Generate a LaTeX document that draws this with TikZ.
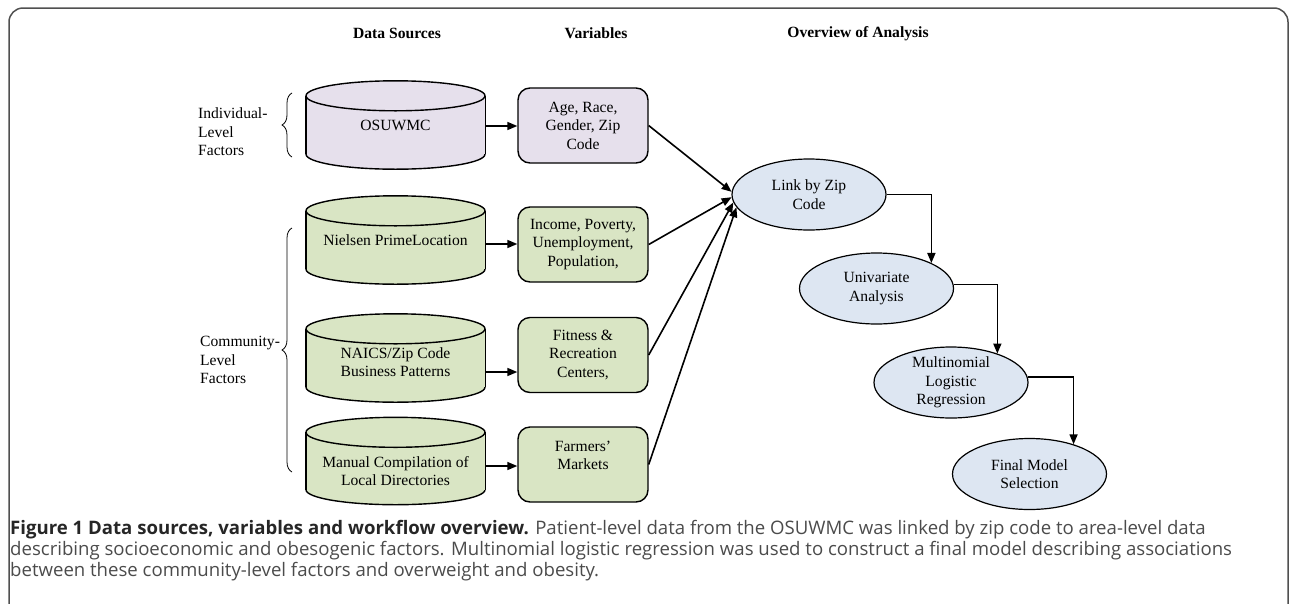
\documentclass[tikz,border=0pt]{standalone}
\usepackage{fontspec}
\setmainfont{Liberation Serif}
\newfontfamily\capfont{Open Sans}
\usetikzlibrary{arrows.meta,shapes.geometric,backgrounds,calc,decorations.pathreplacing}
\definecolor{lilac}{RGB}{230,224,236}
\definecolor{sage}{RGB}{217,229,196}
\definecolor{paleblue}{RGB}{221,230,242}
\definecolor{framegray}{RGB}{80,80,80}
\definecolor{capgray}{RGB}{75,75,75}

\begin{document}
\begin{tikzpicture}[
  x=1pt, y=-1pt,
  every node/.style={font=\fontsize{15.6}{18.5}\selectfont},
  src/.style={minimum width=179pt, minimum height=88pt, inner sep=0pt, align=center},
  var/.style={draw, rounded corners=12pt, line width=1.4pt, minimum width=130pt,
              minimum height=75pt, inner sep=0pt, align=center},
  stage/.style={ellipse, draw, line width=1.2pt, fill=paleblue, minimum width=154pt,
                minimum height=71pt, inner sep=0pt, align=center},
  head/.style={font=\fontsize{15.6}{18.5}\selectfont\bfseries},
  side/.style={align=left, anchor=west, inner sep=0pt},
  arr/.style={-{Triangle[length=10pt,width=8pt]}, line width=1.6pt},
  brc/.style={decorate, decoration={brace, amplitude=10pt}, line width=0.8pt},
  captxt/.style={font=\capfont\fontsize{18.6}{21}\selectfont, text=capgray,
                 align=left, anchor=west, inner sep=0pt},
]
\useasboundingbox (0,0) rectangle (1290,603);

% outer frame
\draw[framegray, line width=1.5pt, rounded corners=14pt] (9,8) rectangle (1288,660);

% column heads
\node[head] (hsrc) at (397,33) {Data Sources};
\node[head] (hvar) at (596,33) {Variables};
\node[head] (hana) at (858,34) {Overview of Analysis};

% data sources (text sits a little low in the lower two)
\node[src] (osu) at (395.5,125) {OSUWMC};
\node[src] (nie) at (395.5,240) {Nielsen PrimeLocation};
\node[src] (nai) at (395.5,362) {NAICS/Zip Code\\Business Patterns};
\node[src, minimum height=87pt] (man) at (395.5,471) {Manual Compilation of\\Local Directories};

\begin{scope}[on background layer]
\foreach \n/\col/\d in {osu/lilac/0, nie/sage/0, nai/sage/4, man/sage/10}{
  \filldraw[fill=\col, line width=1.4pt] ($(\n.south)+(0,-15-\d)$) ellipse[x radius=89.5, y radius=15];
  \fill[\col] ($(\n.north west)+(0,15-\d)$) rectangle ($(\n.south east)+(0,-15-\d)$);
  \draw[line width=1.4pt] ($(\n.north west)+(0,15-\d)$) -- ($(\n.south west)+(0,-15-\d)$)
                          ($(\n.north east)+(0,15-\d)$) -- ($(\n.south east)+(0,-15-\d)$);
  \filldraw[fill=\col, line width=1.4pt] ($(\n.north)+(0,15-\d)$) ellipse[x radius=89.5, y radius=15];
}
\end{scope}

% variables
\node[var, fill=lilac] (age) at (583,125.5) {Age, Race,\\Gender, Zip\\Code};
\node[var, fill=sage] (inc) at (583,244.5) {Income, Poverty,\\Unemployment,\\Population,};
\node[var, fill=sage] (fit) at (583,355) {Fitness \&\\Recreation\\Centers,};
\node[var, fill=sage] (farm) at (583,464.5) {Farmers'\\Markets\\~};

% analysis steps
\node[stage] (link) at (809,194.5) {Link by Zip\\Code};
\node[stage] (uni) at (876.5,288.5) {Univariate\\Analysis};
\node[stage, inner sep=-3pt] (multi) at (951,382.5) {Multinomial\\Logistic\\Regression};
\node[stage] (final) at (1029.5,474) {Final Model\\Selection};

% level labels
\node[side] (ind) at (198,132) {Individual-\\Level\\Factors};
\node[side] (com) at (200,360) {Community-\\Level\\Factors};
\draw[brc] (292,157) -- (292,93);
\draw[brc] (292,472) -- (292,228);

% arrows
\foreach \a/\b/\s in {osu/age/-1, nie/inc/-4, nai/fit/-10, man/farm/5}
  \draw[arr] ([yshift=\s]\a.east) -- ([yshift=\s]\a.east -| \b.west);
\foreach \b/\ang in {age/178, inc/182, fit/186, farm/190}
  \draw[arr] (\b.east) -- (link.\ang);
\draw[arr] (link.east) -| (uni.north east);
\draw[arr] (uni.3) -| (multi.32);
\draw[arr] (multi.4) -| (final.34);

% caption
\node[captxt] (cap) at (10,551) {{\color{black!85}\bfseries Figure 1 Data sources, variables and workflow overview.} Patient-level data from the OSUWMC was linked by zip code to area-level data\\
describing socioeconomic and obesogenic factors. Multinomial logistic regression was used to construct a final model describing associations\\
between these community-level factors and overweight and obesity.};

\end{tikzpicture}
\end{document}
